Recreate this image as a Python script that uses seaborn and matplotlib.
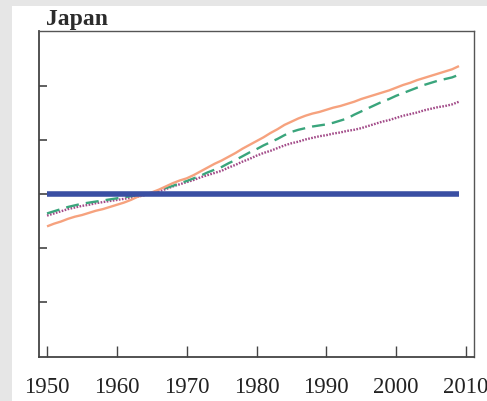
import matplotlib
matplotlib.use("Agg")
import matplotlib.pyplot as plt
from matplotlib.patches import Rectangle
import numpy as np
import pandas as pd
import seaborn as sns

years = list(range(1950, 2010))

orange_vals = [-0.60, -0.55, -0.51, -0.46, -0.42, -0.39, -0.35, -0.31, -0.28, -0.24,
               -0.20, -0.16, -0.11, -0.05, -0.01, 0.03, 0.08, 0.14, 0.20, 0.25,
               0.29, 0.35, 0.42, 0.49, 0.56, 0.62, 0.69, 0.76, 0.84, 0.91,
               0.98, 1.05, 1.13, 1.20, 1.28, 1.34, 1.40, 1.45, 1.49, 1.52,
               1.56, 1.60, 1.63, 1.67, 1.71, 1.76, 1.80, 1.84, 1.88, 1.92,
               1.97, 2.02, 2.06, 2.11, 2.15, 2.19, 2.23, 2.27, 2.31, 2.37]

green_vals = [-0.36, -0.32, -0.28, -0.24, -0.21, -0.18, -0.16, -0.14, -0.12, -0.10,
              -0.08, -0.06, -0.04, -0.02, 0.00, 0.02, 0.06, 0.11, 0.15, 0.20,
              0.24, 0.29, 0.34, 0.40, 0.45, 0.50, 0.57, 0.63, 0.70, 0.77,
              0.83, 0.90, 0.96, 1.02, 1.09, 1.15, 1.19, 1.22, 1.25, 1.27,
              1.29, 1.32, 1.36, 1.40, 1.47, 1.53, 1.59, 1.65, 1.71, 1.76,
              1.82, 1.87, 1.92, 1.97, 2.02, 2.06, 2.10, 2.13, 2.16, 2.21]

purple_vals = [-0.40, -0.36, -0.32, -0.28, -0.25, -0.22, -0.20, -0.17, -0.15, -0.13,
               -0.11, -0.09, -0.07, -0.05, -0.02, 0.01, 0.05, 0.09, 0.14, 0.18,
               0.22, 0.26, 0.31, 0.35, 0.39, 0.43, 0.49, 0.54, 0.60, 0.65,
               0.71, 0.76, 0.80, 0.85, 0.90, 0.94, 0.97, 1.01, 1.04, 1.07,
               1.09, 1.12, 1.14, 1.17, 1.19, 1.22, 1.26, 1.30, 1.34, 1.37,
               1.41, 1.45, 1.48, 1.51, 1.55, 1.58, 1.61, 1.63, 1.66, 1.71]

base_vals = [0.0] * len(years)

x_ticks = [1950, 1960, 1970, 1980, 1990, 2000, 2010]
y_ticks = [-2, -1, 0, 1, 2]
title = "Japan"

df = pd.DataFrame({
    "year": years * 4,
    "value": base_vals + orange_vals + green_vals + purple_vals,
    "series": ["base"] * 60 + ["orange"] * 60 + ["green"] * 60 + ["purple"] * 60,
})

sns.set_theme(style="white")
plt.rcParams["font.family"] = ["Liberation Serif", "DejaVu Serif"]

fig = plt.figure(figsize=(4.87, 4.02), dpi=100)
fig.patch.set_facecolor("#e6e6e6")
panel = Rectangle((12 / 487, 0), 1, 1 - 7 / 402, transform=fig.transFigure,
                  facecolor="white", edgecolor="none", zorder=-10)
fig.add_artist(panel)

ax = fig.add_axes([39 / 487, 1 - 358 / 402, (474 - 39) / 487, (358 - 32) / 402])
ax.set_zorder(1)
ax.set_facecolor("white")

palette = {"base": "#3a4fa3", "orange": "#f6a27e", "green": "#3aa57c", "purple": "#a24a88"}
widths = {"base": 4.0, "orange": 1.7, "green": 1.7, "purple": 1.7}
dashes = {"base": "", "orange": "", "green": (5.5, 3.0), "purple": (0.7, 0.6)}

for name in ["base", "purple", "green", "orange"]:
    sub = df[df["series"] == name]
    sns.lineplot(data=sub, x="year", y="value", ax=ax, color=palette[name],
                 linewidth=widths[name], legend=False,
                 zorder=3 if name == "base" else 2)
    if dashes[name]:
        ax.lines[-1].set_dashes(dashes[name])
    ax.lines[-1].set_solid_capstyle("butt")

ax.set_xlim(1948.85, 2011.15)
ax.set_ylim(-3.02, 3.02)
ax.set_xticks(x_ticks)
ax.set_xticklabels([str(t) for t in x_ticks])
ax.set_yticks(y_ticks)
ax.set_yticklabels([])
ax.set_xlabel("")
ax.set_ylabel("")

ax.tick_params(axis="x", direction="in", length=8, width=1, color="#444444",
               pad=14, labelsize=16.5, labelcolor="#222222", bottom=True)
ax.tick_params(axis="y", direction="in", length=6, width=1.2, color="#444444", left=True)

for side in ["left", "bottom"]:
    ax.spines[side].set_color("#444444")
    ax.spines[side].set_linewidth(1.3)
for side in ["top", "right"]:
    ax.spines[side].set_color("#555555")
    ax.spines[side].set_linewidth(1.0)

fig.text(46 / 487, 1 - 19 / 402, title, fontsize=17, fontweight="bold",
         color="#2b2b2b", ha="left", va="center")

fig.savefig("out.png", dpi=100)
